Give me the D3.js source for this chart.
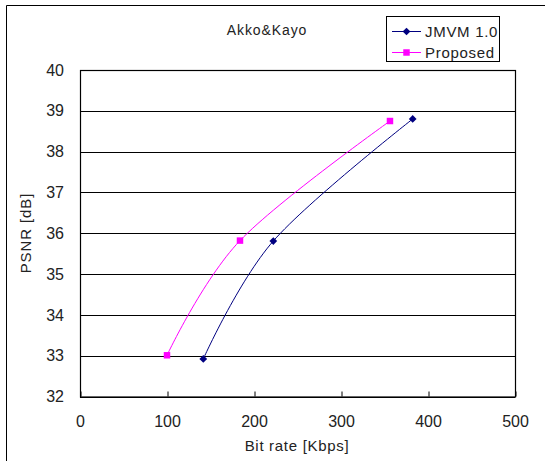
<!DOCTYPE html>
<html><head><meta charset="utf-8">
<script src="https://cdn.jsdelivr.net/npm/d3@7"></script>
<style>body{margin:0;background:#fff}svg{display:block}text{font-family:"Liberation Sans",Arial,sans-serif;fill:#222}</style>
</head><body>
<svg id="c" width="545" height="461"></svg>
<script>
const title = "Akko&Kayo";
const seriesNames = ["JMVM 1.0", "Proposed"];
const jmvmRate = [141.7, 222.2, 382.4];
const jmvmPsnr = [32.92, 35.81, 38.80];
const propRate = [100.0, 183.9, 356.3];
const propPsnr = [33.01, 35.82, 38.75];
const xTicks = [0, 100, 200, 300, 400, 500];
const yTicks = [32, 33, 34, 35, 36, 37, 38, 39, 40];
const colors = ["#000080", "#ff00ff"];
const xLabel = "Bit rate [Kbps]";
const yLabel = "PSNR [dB]";

const svg = d3.select("#c");
// outer frame (top & left)
svg.append("path").attr("d","M6.5,461 V5.5 H545").attr("fill","none").attr("stroke","#000").attr("stroke-width",1);

const L=80, R=515, T=70, B=396.5;
const x = d3.scaleLinear().domain([0,500]).range([L,R]);
const y = d3.scaleLinear().domain([32,40]).range([B,T]);

// grid lines
svg.append("g").selectAll("line").data(yTicks).join("line")
  .attr("x1",L).attr("x2",R).attr("y1",d=>Math.round(y(d))+0.5).attr("y2",d=>Math.round(y(d))+0.5)
  .attr("stroke","#000").attr("stroke-width",1);
// plot box
svg.append("rect").attr("x",L+0.5).attr("y",T+0.5).attr("width",R-L).attr("height",B-T)
  .attr("fill","none").attr("stroke","#000").attr("stroke-width",1.2);

// x axis
const xa = svg.append("g").attr("transform",`translate(0,${B})`)
  .call(d3.axisBottom(x).tickValues(xTicks).tickSize(-5).tickPadding(19).tickFormat(d3.format("d")));
xa.select(".domain").remove();
xa.selectAll("line").attr("stroke","#000").attr("transform","translate(0.5,0)");
xa.selectAll("text").attr("font-size",16).attr("fill","#222");

// y axis
const ya = svg.append("g").attr("transform",`translate(${L},0)`)
  .call(d3.axisLeft(y).tickValues(yTicks).tickSize(0).tickPadding(16).tickFormat(d3.format("d")));
ya.select(".domain").remove();
ya.selectAll("text").attr("font-size",16).attr("fill","#222");

// axis labels
svg.append("text").attr("x",297).attr("y",451).attr("text-anchor","middle").attr("font-size",15).attr("letter-spacing","0.7").text(xLabel);
svg.append("text").attr("transform","translate(31,233) rotate(-90)").attr("text-anchor","middle").attr("font-size",15).attr("letter-spacing","0.9").text(yLabel);

// title
svg.append("text").attr("x",267).attr("y",35).attr("text-anchor","middle").attr("font-size",14).attr("letter-spacing","0.9").text(title);

const line = d3.line().x(d=>x(d[0])).y(d=>y(d[1])).curve(d3.curveCardinal.tension(0));
const diamond = d3.symbol().type(d3.symbolSquare).size(30);
const square = d3.symbol().type(d3.symbolSquare).size(42);
const series = [
  {name:seriesNames[0], pts:d3.zip(jmvmRate,jmvmPsnr), color:colors[0], sym:diamond, rot:45},
  {name:seriesNames[1], pts:d3.zip(propRate,propPsnr), color:colors[1], sym:square, rot:0}
];
series.forEach(s=>{
  svg.append("path").attr("d",line(s.pts)).attr("fill","none").attr("stroke",s.color).attr("stroke-width",1);
  svg.append("g").selectAll("path").data(s.pts).join("path")
    .attr("transform",d=>`translate(${x(d[0])},${y(d[1])}) rotate(${s.rot})`)
    .attr("d",s.sym()).attr("fill",s.color);
});

// legend
const lg = svg.append("g");
lg.append("rect").attr("x",386.5).attr("y",16.5).attr("width",113).attr("height",45).attr("fill","#fff").attr("stroke","#000");
series.forEach((s,i)=>{
  const cy = 31 + i*21;
  lg.append("line").attr("x1",392).attr("x2",421).attr("y1",cy+0.5).attr("y2",cy+0.5).attr("stroke",s.color);
  lg.append("path").attr("transform",`translate(406.5,${cy+0.5}) rotate(${s.rot})`).attr("d",s.sym()).attr("fill",s.color);
  lg.append("text").attr("x",425).attr("y",cy+5.5).attr("font-size",15).attr("letter-spacing","0.7").text(s.name);
});
</script>
</body></html>
